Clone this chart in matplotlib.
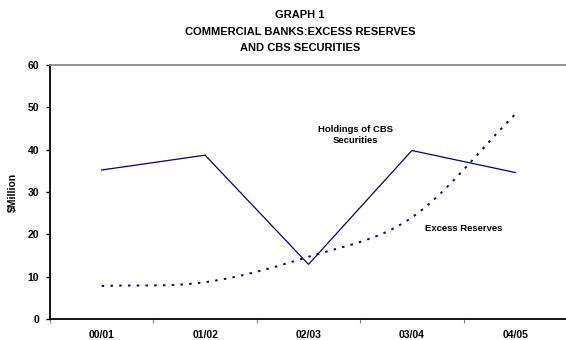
import numpy as np
import matplotlib
matplotlib.use("Agg")
import matplotlib.pyplot as plt

plt.rcParams['font.family'] = ['Liberation Sans', 'DejaVu Sans']
plt.rcParams['font.weight'] = 'bold'

periods = ["00/01", "01/02", "02/03", "03/04", "04/05"]
cbs_holdings = [35.2, 38.7, 12.9, 39.8, 34.6]
excess_reserves = [7.8, 8.7, 14.7, 24.0, 48.4]
y_ticks = [0, 10, 20, 30, 40, 50, 60]

NAVY = "#000080"


def smooth(xs, ys, n=30):
    """Catmull-Rom curve through the given points (Excel-style smoothed line)."""
    xs = np.asarray(xs, float)
    ys = np.asarray(ys, float)
    px = np.concatenate([[2 * xs[0] - xs[1]], xs, [2 * xs[-1] - xs[-2]]])
    py = np.concatenate([[2 * ys[0] - ys[1]], ys, [2 * ys[-1] - ys[-2]]])
    out_x, out_y = [], []
    t = np.linspace(0, 1, n, endpoint=False)
    for i in range(1, len(px) - 2):
        for p, out in ((px, out_x), (py, out_y)):
            p0, p1, p2, p3 = p[i - 1], p[i], p[i + 1], p[i + 2]
            seg = 0.5 * ((2 * p1) + (-p0 + p2) * t
                         + (2 * p0 - 5 * p1 + 4 * p2 - p3) * t ** 2
                         + (-p0 + 3 * p1 - 3 * p2 + p3) * t ** 3)
            out.extend(seg)
    out_x.append(xs[-1])
    out_y.append(ys[-1])
    return np.array(out_x), np.array(out_y)


fig = plt.figure(figsize=(5.66, 3.40), dpi=100)
ax = fig.add_axes([50 / 566, 1 - 319 / 340, 517 / 566, 254 / 340])

x = np.arange(len(periods))
ax.plot(x, cbs_holdings, color=NAVY, lw=0.9, solid_joinstyle='miter')
sx, sy = smooth(x, excess_reserves)
ax.plot(sx, sy, color=NAVY, lw=1.4, linestyle=(0, (1.3, 3.2)))

ax.set_xlim(-0.5, len(periods) - 0.5)
ax.set_ylim(0, 60)
ax.set_yticks(y_ticks)
ax.set_xticks(np.arange(-0.5, len(periods), 1.0))
ax.set_xticklabels([])
ax.set_xticks(x, minor=True)
ax.set_xticklabels(periods, minor=True)
ax.tick_params(axis='x', which='minor', length=0, pad=8, labelsize=7.5)
ax.tick_params(axis='x', which='major', length=3, width=0.8, color='#808080')
ax.tick_params(axis='y', length=3, width=1.0, labelsize=7.5, pad=5)

for side in ('left', 'bottom'):
    ax.spines[side].set_linewidth(1.3)
    ax.spines[side].set_color('black')
ax.spines['top'].set_color('#808080')
ax.spines['top'].set_linewidth(1.2)
ax.spines['right'].set_visible(False)

ax.set_ylabel("$Million", fontsize=7.5, fontweight='bold', labelpad=7)

ax.text(2.45, 43.5, "Holdings of CBS\nSecurities", fontsize=6.8, fontweight='bold',
        ha='center', va='center', linespacing=1.35)
ax.text(3.5, 21.3, "Excess Reserves", fontsize=6.8, fontweight='bold',
        ha='center', va='center')

title_x = 0.5 + 17 / 566
fig.text(title_x, 1 - 15 / 340, "GRAPH 1", fontsize=8, fontweight='bold',
         ha='center', va='center')
fig.text(title_x, 1 - 32 / 340, "COMMERCIAL BANKS:EXCESS RESERVES", fontsize=8,
         fontweight='bold', ha='center', va='center')
fig.text(title_x, 1 - 48 / 340, "AND CBS SECURITIES", fontsize=8,
         fontweight='bold', ha='center', va='center')

fig.savefig("out.png", dpi=100)
